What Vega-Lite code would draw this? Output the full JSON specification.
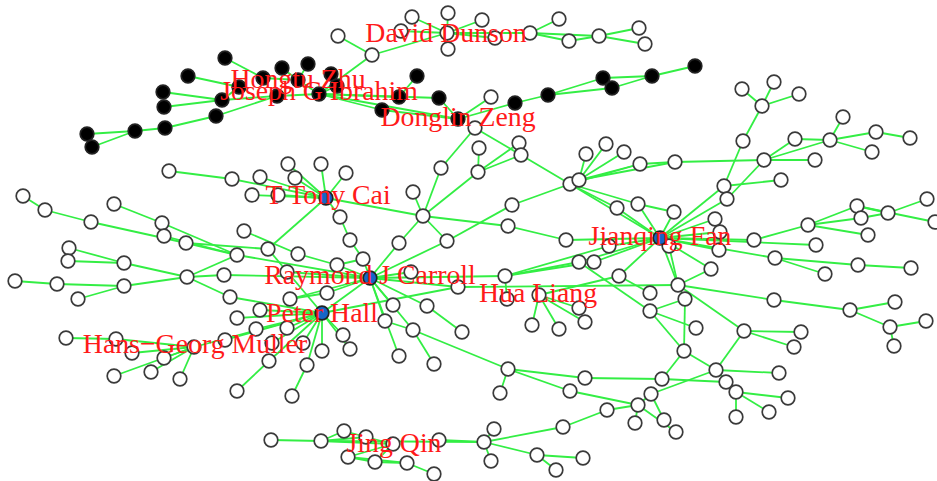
{"$schema":"https://vega.github.io/schema/vega-lite/v6.json","width":937,"height":481,"autosize":"none","padding":0,"background":"white","view":{"stroke":null},
"datasets":{
"edges":[
[225,58,263,78],[263,78,298,80],[188,76,239,87],[163,92,222,100],[164,107,222,100],[222,100,239,87],[222,100,277,96],[216,116,277,96],[277,96,319,94],[165,128,216,116],[135,131,165,128],[87,134,135,131],[92,147,135,131],[282,68,298,80],[308,64,298,80],[298,80,319,94],[331,74,337,86],[337,86,319,94],[319,94,399,97],[319,94,382,110],[319,94,439,98],[399,97,417,76],[319,94,458,119],[439,98,458,119],[382,110,458,119],[458,119,515,103],[515,103,548,95],[548,95,603,78],[548,95,612,88],[603,78,652,76],[612,88,652,76],[652,76,695,66],[319,94,372,55],[338,36,372,55],[372,55,447,33],[447,33,412,17],[447,33,448,13],[447,33,401,31],[447,33,448,49],[447,33,482,20],[447,33,530,33],[447,33,495,38],[530,33,559,19],[530,33,569,41],[530,33,599,36],[569,41,599,36],[599,36,639,28],[599,36,645,44],
[169,171,232,179],[232,179,326,198],[260,177,326,198],[288,164,326,198],[321,164,326,198],[346,173,326,198],[295,178,326,198],[252,195,326,198],[278,195,326,198],[326,198,340,217],[340,217,350,240],[326,198,423,216],[413,192,423,216],[423,216,441,168],[441,168,475,128],[423,216,508,226],[423,216,399,243],[423,216,447,241],[423,216,478,172],[478,172,479,148],[478,172,521,155],[478,172,519,143],[475,128,521,155],[521,155,570,184],[326,198,268,249],[244,231,298,254],[491,97,458,119],
[570,184,579,180],[579,180,586,154],[579,180,606,144],[579,180,624,152],[579,180,640,164],[579,180,675,162],[640,164,675,162],[675,162,764,160],[570,184,640,164],[570,184,617,208],[570,184,638,204],[570,184,660,238],[617,208,660,238],[638,204,660,238],[638,204,674,212],[674,212,660,238],[570,184,512,205],[512,205,447,241],[508,226,566,240],[566,240,660,238],[660,238,724,186],[724,186,743,141],[743,141,762,106],[762,106,742,89],[762,106,774,82],[762,106,799,94],[724,186,781,180],[660,238,727,199],[727,199,764,160],[764,160,815,160],[764,160,795,139],[764,160,830,140],[795,139,830,140],[830,140,843,117],[830,140,876,132],[876,132,910,138],[830,140,872,152],[660,238,715,219],[660,238,720,232],[660,238,754,240],[754,240,808,225],[808,225,857,206],[808,225,861,218],[808,225,868,235],[857,206,888,213],[861,218,888,213],[888,213,927,199],[857,206,935,222],[660,238,816,245],[660,238,719,250],[660,238,775,258],[775,258,858,265],[775,258,825,274],[858,265,911,268],[660,238,669,246],[660,238,678,285],[669,246,678,285],[660,238,711,269],[678,285,711,269],[660,238,619,276],[619,276,650,293],[660,238,609,246],[660,238,594,262],[660,238,579,262],[579,262,505,276],[594,262,505,276],[609,246,505,276],[678,285,458,287],[539,295,619,276],[505,276,370,278],[505,276,507,299],[579,262,650,311],[650,311,685,299],[685,299,678,285],[650,311,696,328],[650,311,684,351],[685,299,684,351],[684,351,662,379],[684,351,716,370],[716,370,744,331],[744,331,678,285],[744,331,801,332],[744,331,794,347],[716,370,779,373],[716,370,651,394],[651,394,638,405],[638,405,607,410],[607,410,563,427],[563,427,484,442],[651,394,664,420],[638,405,676,432],[638,405,635,423],[638,405,570,391],[570,391,508,369],[585,378,508,369],[508,369,500,393],[585,378,662,379],[662,379,726,382],[726,382,736,392],[736,392,736,417],[736,392,769,412],[736,392,788,398],[716,370,736,392],[508,369,413,330],[678,285,774,300],[774,300,850,310],[850,310,895,302],[850,310,890,327],[890,327,926,321],[890,327,894,346],[539,295,532,325],[539,295,559,329],[539,295,585,322],[539,295,579,308],
[23,196,45,210],[45,210,91,222],[91,222,186,243],[186,243,268,249],[114,204,162,223],[162,223,237,255],[164,236,237,255],[186,243,237,255],[237,255,187,277],[187,277,124,263],[124,263,69,248],[124,263,68,261],[187,277,124,286],[124,286,57,284],[57,284,15,281],[124,286,78,299],[187,277,224,275],[224,275,370,278],[187,277,230,297],[230,297,322,313],[268,249,322,313],[298,254,337,265],[337,265,363,259],[337,265,370,278],[237,255,370,278],[363,259,370,278],[363,259,350,240],[370,278,399,243],[370,278,447,241],[370,278,287,272],[370,278,411,272],[370,278,458,287],[370,278,327,293],[370,278,322,313],[370,278,393,305],[370,278,427,306],[427,306,462,332],[370,278,385,321],[370,278,290,299],[290,299,327,293],[322,313,458,287],[370,278,399,356],[385,321,413,330],[413,330,434,364],[413,330,370,278],
[322,313,260,310],[322,313,237,318],[322,313,256,329],[322,313,287,328],[322,313,225,340],[322,313,194,347],[322,313,272,343],[322,313,269,361],[322,313,303,343],[322,313,322,351],[322,313,307,365],[322,313,343,335],[322,313,350,349],[269,361,237,391],[307,365,292,396],
[66,338,116,339],[116,339,194,347],[132,353,194,347],[164,358,194,347],[151,372,194,347],[114,376,194,347],[180,379,194,347],
[271,440,321,441],[321,441,344,431],[321,441,366,437],[321,441,393,444],[321,441,484,442],[439,440,484,442],[366,437,393,444],[348,457,393,444],[348,457,375,462],[348,457,407,463],[375,462,407,463],[407,463,434,474],[375,462,393,444],[344,431,366,437],[484,442,494,429],[484,442,491,461],[484,442,537,455],[537,455,583,458],[537,455,556,470]
],
"black":[[225,58],[188,76],[163,92],[164,107],[165,128],[135,131],[87,134],[92,147],[216,116],[222,100],[239,87],[263,78],[282,68],[308,64],[298,80],[331,74],[337,86],[277,96],[319,94],[399,97],[417,76],[439,98],[382,110],[458,119],[515,103],[548,95],[603,78],[612,88],[652,76],[695,66]],
"white":[[372,55],[338,36],[412,17],[448,13],[401,31],[447,33],[448,49],[482,20],[530,33],[559,19],[495,38],[569,41],[599,36],[639,28],[645,44],[169,171],[232,179],[260,177],[288,164],[321,164],[346,173],[295,178],[252,195],[278,195],[340,217],[350,240],[423,216],[413,192],[441,168],[244,231],[23,196],[45,210],[91,222],[114,204],[162,223],[164,236],[186,243],[268,249],[237,255],[298,254],[337,265],[363,259],[399,243],[447,241],[287,272],[411,272],[69,248],[68,261],[124,263],[187,277],[224,275],[15,281],[57,284],[124,286],[78,299],[230,297],[327,293],[290,299],[260,310],[237,318],[393,305],[458,287],[427,306],[462,332],[385,321],[413,330],[399,356],[434,364],[343,335],[350,349],[322,351],[303,343],[287,328],[256,329],[225,340],[272,343],[269,361],[307,365],[292,396],[237,391],[66,338],[116,339],[132,353],[194,347],[164,358],[151,372],[114,376],[180,379],[271,440],[321,441],[344,431],[366,437],[393,444],[348,457],[375,462],[407,463],[434,474],[439,440],[484,442],[494,429],[491,461],[537,455],[583,458],[556,470],[563,427],[607,410],[638,405],[635,423],[651,394],[664,420],[676,432],[570,391],[585,378],[508,369],[500,393],[662,379],[684,351],[716,370],[726,382],[736,392],[736,417],[769,412],[788,398],[779,373],[744,331],[801,332],[794,347],[505,276],[507,299],[539,295],[579,308],[585,322],[532,325],[559,329],[579,262],[594,262],[619,276],[609,246],[650,293],[650,311],[678,285],[685,299],[696,328],[711,269],[669,246],[719,250],[775,258],[825,274],[858,265],[911,268],[816,245],[754,240],[868,235],[774,300],[850,310],[895,302],[890,327],[926,321],[894,346],[475,128],[479,148],[478,172],[519,143],[521,155],[491,97],[570,184],[579,180],[586,154],[606,144],[624,152],[640,164],[675,162],[512,205],[508,226],[617,208],[638,204],[674,212],[566,240],[715,219],[720,232],[724,186],[727,199],[781,180],[743,141],[762,106],[742,89],[774,82],[799,94],[764,160],[795,139],[815,160],[830,140],[843,117],[876,132],[910,138],[872,152],[808,225],[857,206],[861,218],[888,213],[927,199],[935,222]],
"hubs":[[326,198],[370,278],[322,313],[660,238]],
"labels":[{"name":"David Dunson","px":446,"py":34},{"name":"Hongtu Zhu","px":298,"py":80},{"name":"Joseph G Ibrahim","px":319,"py":92},{"name":"Donglin Zeng","px":458,"py":118},{"name":"T Tony Cai","px":328,"py":196},{"name":"Jianqing Fan","px":660,"py":237},{"name":"Raymond J Carroll","px":370,"py":276},{"name":"Hua Liang","px":538,"py":294},{"name":"Peter Hall","px":322,"py":314},{"name":"Hans−Georg Muller","px":195,"py":345},{"name":"Jing Qin","px":394,"py":444}]
},
"layer":[
{"data":{"name":"edges"},"mark":{"type":"rule","color":"#33ee44","strokeWidth":1.8},"encoding":{"x":{"field":"0","type":"quantitative","scale":{"domain":[0,937],"nice":false},"axis":null},"y":{"field":"1","type":"quantitative","scale":{"domain":[481,0],"nice":false},"axis":null},"x2":{"field":"2"},"y2":{"field":"3"}}},
{"data":{"name":"white"},"mark":{"type":"point","shape":"circle","filled":true,"fill":"white","stroke":"#3a3a3a","strokeWidth":1.7,"opacity":1,"size":185},"encoding":{"x":{"field":"0","type":"quantitative"},"y":{"field":"1","type":"quantitative"}}},
{"data":{"name":"black"},"mark":{"type":"point","shape":"circle","filled":true,"fill":"black","stroke":"#222222","strokeWidth":1.7,"opacity":1,"size":185},"encoding":{"x":{"field":"0","type":"quantitative"},"y":{"field":"1","type":"quantitative"}}},
{"data":{"name":"hubs"},"mark":{"type":"point","shape":"circle","filled":true,"fill":"#1565c8","stroke":"#222222","strokeWidth":1.7,"opacity":1,"size":185},"encoding":{"x":{"field":"0","type":"quantitative"},"y":{"field":"1","type":"quantitative"}}},
{"data":{"name":"labels"},"mark":{"type":"text","font":"Liberation Serif","fontSize":27.8,"color":"#ff1a1a","align":"center","baseline":"middle"},"encoding":{"x":{"field":"px","type":"quantitative"},"y":{"field":"py","type":"quantitative"},"text":{"field":"name"}}}
],
"resolve":{"scale":{"x":"shared","y":"shared"}}}
